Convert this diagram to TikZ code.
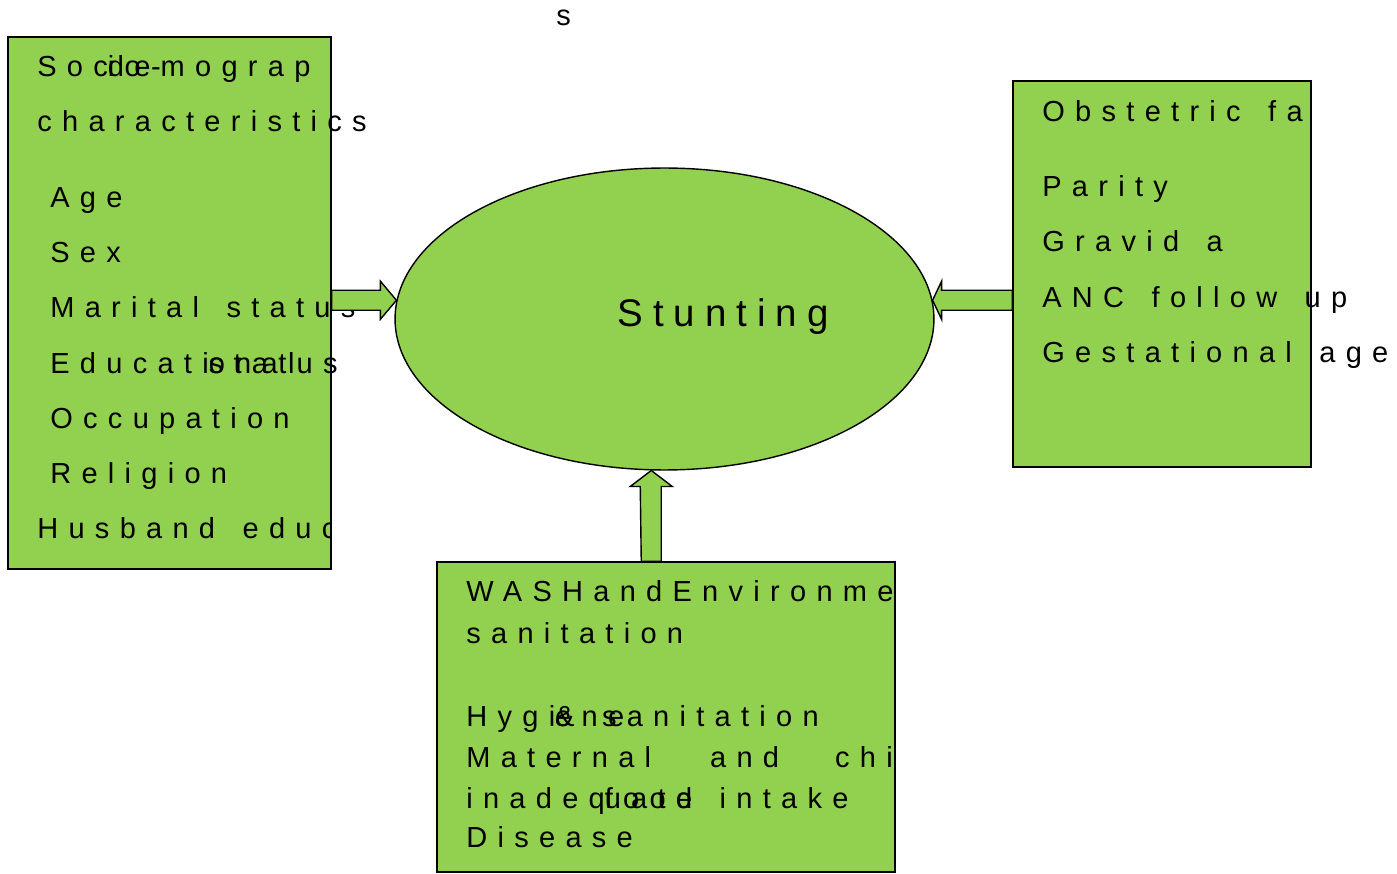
\documentclass[tikz,border=0pt]{standalone}
\usepackage{fontspec}
\setmainfont{Liberation Sans}
\newfontfamily\boxfont{Liberation Sans}[LetterSpace=35.5, WordSpace=1.5]
\newfontfamily\bigfont{Liberation Sans}[LetterSpace=26]
\usetikzlibrary{shapes.geometric,calc}
\definecolor{boxgreen}{HTML}{92D050}
\tikzset{
  box/.style={draw, fill=boxgreen, line width=0.8pt, inner sep=0},
  txt/.style={anchor=base west, inner sep=0, font=\boxfont\fontsize{16.5pt}{20pt}\selectfont},
  blockarr/.style={draw, fill=boxgreen, line width=0.8pt, line join=miter}
}
\begin{document}
\begin{tikzpicture}[x=0.02cm, y=-0.02cm]
\useasboundingbox (0,0) rectangle (1397,874);

% boxes and the ellipse
\node[box, minimum width=6.46cm, minimum height=10.64cm] (socio) at (169.5,303) {};
\node[box, minimum width=5.96cm, minimum height=7.72cm] (obst) at (1162,274) {};
\node[box, minimum width=9.16cm, minimum height=6.2cm] (wash) at (666,717) {};
\node[ellipse, draw, fill=boxgreen, line width=0.8pt, inner sep=0,
      minimum width=10.78cm, minimum height=6.04cm] (stunt) at (664.5,319) {};

\node[txt] (toplbl) at (556,26) {s};
\node[anchor=base west, inner sep=0, font=\bigfont\fontsize{21.9pt}{26pt}\selectfont] (stuntlbl) at (617,327) {Stunting};

% socio-demographic box
\node[txt] (soc1) at (37,77) {Soc\rlap{io-}demograp};
\node[txt] (soc2) at (37,132) {characteristics};
\foreach \y/\t [count=\i] in {208/Age, 263/Sex, 318/Marital status, 374/Educati\rlap{onal}status, 429/Occupation, 484/Religion}
  \node[txt] (socitem\i) at (50,\y) {\t};
\begin{scope}
\clip (socio.south west) rectangle (socio.north east);
\node[txt] (socitem7) at (37,539) {Husband educ};
\end{scope}

% obstetric box
\begin{scope}
\clip (obst.south west) rectangle (obst.north east);
\node[txt] (obs1) at (1042,122) {Obstetric fa};
\end{scope}
\foreach \y/\t [count=\i] in {197/Parity, 252/Gravid a, 308/ANC follow up, 363/Gestational age}
  \node[txt] (obsitem\i) at (1042,\y) {\t};

% WASH box
\begin{scope}
\clip (wash.south west) rectangle (wash.north east);
\node[txt] (wash1) at (466,602) {WASHandEnvironme};
\node[txt] (washitem2) at (466,767) {Maternal\hspace{1.18cm}and\hspace{1.12cm}chi};
\end{scope}
\node[txt] (wash2) at (466,644) {sanitation};
\node[txt] (washitem1) at (466,726) {Hygi\rlap{ene}\& sanitation};
\node[txt] (washitem3) at (466,808) {inadeq\rlap{uate}food intake};
\node[txt] (washitem4) at (466,847) {Disease};

% block arrows into the ellipse
\draw[blockarr] (stunt.176) -- ++(-16,-19) -- ++(0,9) -- ($(socio.east |- stunt.176)+(0,-10)$)
  -- ++(0,20) -- ($(stunt.176)+(-16,10)$) -- ++(0,9) -- cycle;
\draw[blockarr] (stunt.4) -- ++(9,-19) -- ++(0,9) -- ($(obst.west |- stunt.4)+(0,-10)$)
  -- ++(0,20) -- ($(stunt.4)+(9,10)$) -- ++(0,9) -- cycle;
\draw[blockarr] (stunt.265) -- ++(-21,16) -- ++(10,0) -- ($(wash.north -| stunt.265)+(-10,0)$)
  -- ++(20,0) -- ($(stunt.265)+(10,16)$) -- ++(11,0) -- cycle;
\end{tikzpicture}
\end{document}
